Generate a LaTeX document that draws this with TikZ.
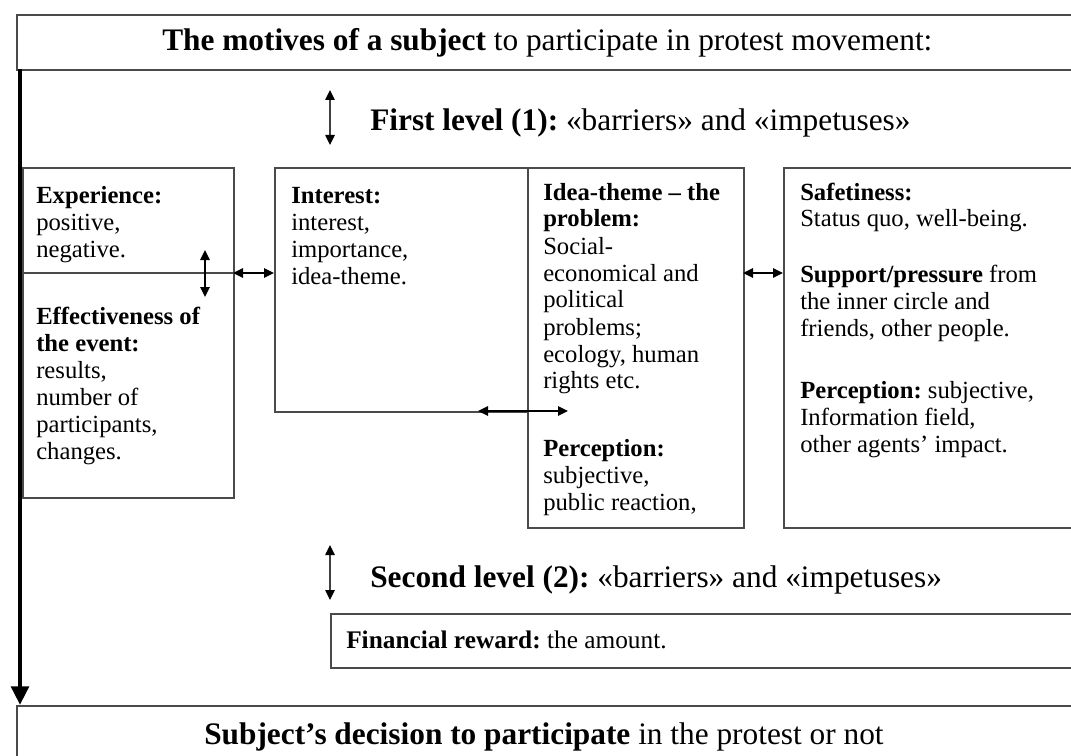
\documentclass[tikz,border=0pt]{standalone}
\usepackage{fontspec}
\setmainfont{Liberation Serif}
\usetikzlibrary{arrows.meta}
\frenchspacing
\definecolor{boxgray}{HTML}{4A4A4A}
\newcommand{\blk}[1]{\parbox[t]{300pt}{\raggedright\fontsize{18.5pt}{20.25pt}\selectfont #1}}
\begin{document}
\begin{tikzpicture}[x=0.75pt,y=-0.75pt,
  box/.style={draw=boxgray, line width=1.5pt, rectangle, inner sep=0pt, anchor=north west},
  txt/.style={inner sep=0pt, anchor=base west},
  head/.style={inner sep=0pt, anchor=base west, font=\fontsize{23.5pt}{28pt}\selectfont},
  fintxt/.style={inner sep=0pt, anchor=base west, font=\fontsize{19pt}{22pt}\selectfont},
  dbl/.style={line width=1.4pt, black, {Triangle[length=7.5pt,width=7pt]}-{Triangle[length=7.5pt,width=7pt]}},
  vdbl/.style={line width=1.1pt, black!75, {Triangle[length=7.5pt,width=7pt,black]}-{Triangle[length=7.5pt,width=7pt,black]}},
  mainarrow/.style={line width=3.4pt, black, -{Triangle[length=14pt,width=13pt]}}
]
\useasboundingbox (0,0) rectangle (1071,756);
\fill[white] (0,0) rectangle (1071,756);

% boxes
\node[box, minimum width=805.5pt, minimum height=41.25pt] (topbox) at (16,14) {};
\node[box, minimum width=158.25pt, minimum height=247.5pt] (exp) at (22,167) {};
\node[box, minimum width=189.75pt, minimum height=183pt] (int) at (274,167) {};
\node[box, minimum width=162pt, minimum height=270pt] (idea) at (527,167) {};
\node[box, minimum width=230.25pt, minimum height=270pt] (safe) at (783,167) {};
\node[box, minimum width=570pt, minimum height=40.5pt] (fin) at (330,613) {};
\node[box, minimum width=805.5pt, minimum height=48.75pt] (bottom) at (16,705) {};

% divider inside Experience box
\coordinate (dl) at (22,273);
\coordinate (dr) at (233,273);
\draw[draw=boxgray, line width=1.5pt] (dl) -- (dr);

% headings
\node[head] (title) at (162,51) {\textbf{The motives of a subject} to participate in protest movement:};
\node[head] (lev1) at (370,131) {\textbf{First level (1):} «barriers» and «impetuses»};
\node[head] (lev2) at (370,587) {\textbf{Second level (2):} «barriers» and «impetuses»};
\node[head] (decision) at (204,744) {\textbf{Subject’s decision to participate} in the protest or not};
\node[fintxt] (fintext) at (346,648) {\textbf{Financial reward:} the amount.};

% box texts
\node[txt] (exp1) at (36,204) {\blk{\textbf{Experience:}\\positive,\\negative.}};
\node[txt] (exp2) at (36,324) {\blk{\textbf{Effectiveness of}\\\textbf{the event:}\\results,\\number of\\participants,\\changes.}};
\node[txt] (int1) at (291,204) {\blk{\textbf{Interest:}\\interest,\\importance,\\idea-theme.}};
\node[txt] (idea1) at (543,200) {\blk{\textbf{Idea-theme -- the}\\\textbf{problem:}\\Social-\\economical and\\political\\problems;\\ecology, human\\rights etc.}};
\node[txt] (idea2) at (543,456) {\blk{\textbf{Perception:}\\subjective,\\public reaction,}};
\node[txt] (safe1) at (800,200) {\blk{\textbf{Safetiness:}\\Status quo, well-being.}};
\node[txt] (safe2) at (800,282) {\blk{\textbf{Support/pressure} from\\the inner circle and\\friends, other people.}};
\node[txt] (safe3) at (800,398) {\blk{\textbf{Perception:} subjective,\\Information field,\\other agents’ impact.}};

% connectors
\coordinate (ms) at (20,69);
\coordinate (me) at (20,705);
\draw[mainarrow] (ms) -- (me);

\coordinate (l1a) at (330,90);
\coordinate (l1b) at (330,145);
\draw[vdbl] (l1a) -- (l1b);
\coordinate (l2a) at (330,545);
\coordinate (l2b) at (330,600);
\draw[vdbl] (l2a) -- (l2b);

\coordinate (ea) at (205,250);
\coordinate (eb) at (205,297);
\draw[dbl] (ea) -- (eb);
\draw[dbl] (dr) -- (int.west |- dr);

\coordinate (ia) at (478,411);
\coordinate (ib) at (568,411);
\draw[dbl] (ia) -- (ib);

\coordinate (sa) at (743,273);
\draw[dbl] (sa) -- (safe.west |- sa);
\end{tikzpicture}
\end{document}
